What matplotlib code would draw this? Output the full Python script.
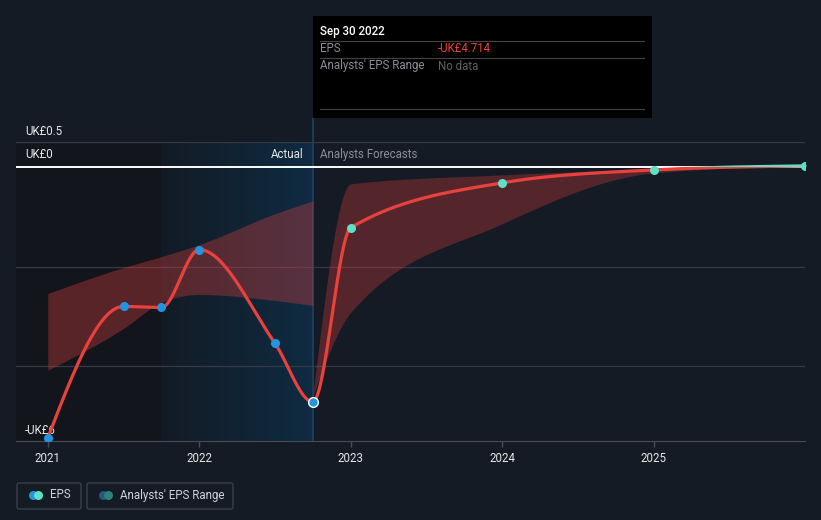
import numpy as np
import matplotlib.pyplot as plt
from matplotlib.patches import Rectangle, FancyBboxPatch
from matplotlib.colors import LinearSegmentedColormap

plt.rcParams['font.family'] = ['Roboto', 'DejaVu Sans']

# EPS (actual)
past_dates = [2021.0, 2021.5, 2021.75, 2022.0, 2022.5, 2022.75]
past_eps = [-5.44, -2.80, -2.82, -1.66, -3.54, -4.714]
# EPS (analysts' forecasts)
fc_dates = [2022.75, 2023.0, 2024.0, 2025.0, 2026.0]
fc_eps = [-4.714, -1.22, -0.32, -0.06, 0.02]
# Analysts' EPS range
past_low = [-4.08, -3.24, -2.72, -2.56, -2.68, -2.78]
past_high = [-2.54, -2.02, -1.80, -1.56, -0.94, -0.68]
fc_low = [-4.60, -2.92, -1.14, -0.12, 0.02]
fc_high = [-4.60, -0.34, -0.16, -0.04, 0.04]

year_ticks = [2021, 2022, 2023, 2024, 2025]
grid_vals = [0.5, -2, -4]

bg = "#151b24"
red = "#e8413e"
blue = "#2394df"
teal = "#5de0c5"


#Monotone curve (like d3 curveMonotoneX) so the lines look smooth
def smooth(xs, ys, n=60):
    x = np.asarray(xs, float)
    y = np.asarray(ys, float)
    h = np.diff(x)
    s = np.diff(y) / h
    m = np.zeros_like(y)
    for i in range(1, len(x) - 1):
        p = (s[i - 1] * h[i] + s[i] * h[i - 1]) / (h[i - 1] + h[i])
        m[i] = (np.sign(s[i - 1]) + np.sign(s[i])) * min(abs(s[i - 1]), abs(s[i]), 0.5 * abs(p))
    m[0] = (3 * s[0] - m[1]) / 2 if len(x) > 2 else s[0]
    m[-1] = (3 * s[-1] - m[-2]) / 2 if len(x) > 2 else s[-1]
    out_x, out_y = [], []
    for i in range(len(x) - 1):
        t = np.linspace(0, 1, n)
        h00 = 2 * t**3 - 3 * t**2 + 1
        h10 = t**3 - 2 * t**2 + t
        h01 = -2 * t**3 + 3 * t**2
        h11 = t**3 - t**2
        out_x.append(x[i] + t * h[i])
        out_y.append(h00 * y[i] + h10 * h[i] * m[i] + h01 * y[i + 1] + h11 * h[i] * m[i + 1])
    return np.concatenate(out_x), np.concatenate(out_y)


fig = plt.figure(figsize=(8.21, 5.2), dpi=100, facecolor=bg)
ax = fig.add_axes([16 / 821, 79 / 520, 789 / 821, 299 / 520])
ax.set_facecolor(bg)

#Past shading
ax.axvspan(2020.79, 2021.75, color="#12161c", zorder=0, lw=0)
cmap = LinearSegmentedColormap.from_list("past", ["#131b25", "#0f2b42"])
ax.imshow(np.linspace(0, 1, 256).reshape(1, -1), extent=[2021.75, 2022.75, -5.5, 0.5],
          aspect="auto", cmap=cmap, zorder=0)

#Gridlines
for g in grid_vals:
    ax.axhline(g, color="#353b45", lw=0.9, zorder=1)
ax.axhline(0, color="white", lw=1.4, zorder=2)

#Analysts' range bands
bx, bl = smooth(past_dates, past_low)
_, bh = smooth(past_dates, past_high)
ax.fill_between(bx, bl, bh, color=red, alpha=0.33, lw=0, zorder=2)
fx, fl = smooth(fc_dates, fc_low)
_, fh = smooth(fc_dates, fc_high)
ax.fill_between(fx, fl, fh, color=red, alpha=0.3, lw=0, zorder=2)

#EPS line, red below zero and teal above
lx, ly = smooth(past_dates + fc_dates[1:], past_eps + fc_eps[1:])
line_red, = ax.plot(lx, ly, color=red, lw=2.3, zorder=3, solid_capstyle="round")
line_teal, = ax.plot(lx, ly, color=teal, lw=2.3, zorder=3, solid_capstyle="round")
line_red.set_clip_path(Rectangle((2020, -10), 10, 10, transform=ax.transData))
line_teal.set_clip_path(Rectangle((2020, 0), 10, 10, transform=ax.transData))

#Markers
ax.plot(past_dates[:-1], past_eps[:-1], "o", color=blue, ms=6.5, mew=0, zorder=4)
ax.plot(past_dates[-1], past_eps[-1], "o", color=blue, ms=7, mec="white", mew=1, zorder=4)
ax.plot(fc_dates[1:], fc_eps[1:], "o", color=teal, ms=6.5, mew=0, zorder=4)

#Current date line
ax.axvline(2022.75, ymin=0, ymax=1.08, color="#1e4260", lw=1.2, zorder=1, clip_on=False)

ax.set_xlim(2020.79, 2026.0)
ax.set_ylim(-5.5, 0.5)

#Axes style
for side in ["top", "right", "left"]:
    ax.spines[side].set_visible(False)
ax.spines["bottom"].set_color("#474c55")
ax.set_yticks([])
ax.set_xticks(year_ticks)
ax.set_xticklabels([str(y) for y in year_ticks])
ax.tick_params(axis="x", colors="#474c55", length=4, width=1, labelcolor="#e6e6e6",
               labelsize=8.3, pad=4)

#Y labels
ax.text(2020.848, 0.72, "UK£0.5", color="#e6e6e6", fontsize=8.3, va="center", zorder=1, clip_on=False)
ax.text(2020.848, 0.24, "UK£0", color="#e6e6e6", fontsize=8.3, va="center", zorder=1)
ax.text(2020.79 + 9 / 151, -5.28, "-UK£6", color="#e6e6e6", fontsize=8.3, va="center", zorder=1)
ax.text(2022.69, 0.24, "Actual", color="#e6e6e6", fontsize=8.3, va="center", ha="right", zorder=3)
ax.text(2022.80, 0.24, "Analysts Forecasts", color="#8a8f98", fontsize=8.3, va="center", zorder=3)

#Overlay in pixels for tooltip and legend
ov = fig.add_axes([0, 0, 1, 1], zorder=5)
ov.set_xlim(0, 821)
ov.set_ylim(520, 0)
ov.axis("off")
ov.patch.set_alpha(0)

ov.add_patch(Rectangle((313, 16), 339, 102, color="black", lw=0))
ov.text(320, 31, "Sep 30 2022", color="white", fontsize=8.3, fontweight="medium", va="center")
ov.plot([320, 644], [41, 41], color="#444444", lw=0.8)
ov.text(320, 49, "EPS", color="#8a8f98", fontsize=8.3, va="center")
ov.text(438, 49, "-UK£4.714", color="#f0403d", fontsize=8.3, va="center")
ov.plot([320, 644], [58, 58], color="#444444", lw=0.8)
ov.text(320, 66, "Analysts' EPS Range", color="#8a8f98", fontsize=8.3, va="center")
ov.text(438, 66, "No data", color="#5d6169", fontsize=8.3, va="center")
ov.plot([320, 644], [109, 109], color="#444444", lw=0.8)

#Legend
ov.add_patch(FancyBboxPatch((17, 483), 64, 26, boxstyle="round,pad=0,rounding_size=2",
                            fc="none", ec="#3a3f48", lw=1))
ov.add_patch(FancyBboxPatch((87, 483), 146, 26, boxstyle="round,pad=0,rounding_size=2",
                            fc="none", ec="#3a3f48", lw=1))
ov.plot([33], [495], "o", color=blue, ms=6.5, mew=0)
ov.plot([38], [495], "o", color=teal, ms=6.5, mew=0)
ov.plot([103], [495], "o", color="#1f5a82", ms=6.5, mew=0)
ov.plot([108], [495], "o", color="#2f7f7a", ms=6.5, mew=0)
ov.text(50, 495, "EPS", color="#d0d3d8", fontsize=8.3, va="center")
ov.text(120, 495, "Analysts' EPS Range", color="#d0d3d8", fontsize=8.3, va="center")

fig.savefig("out.png", dpi=100, facecolor=bg)
